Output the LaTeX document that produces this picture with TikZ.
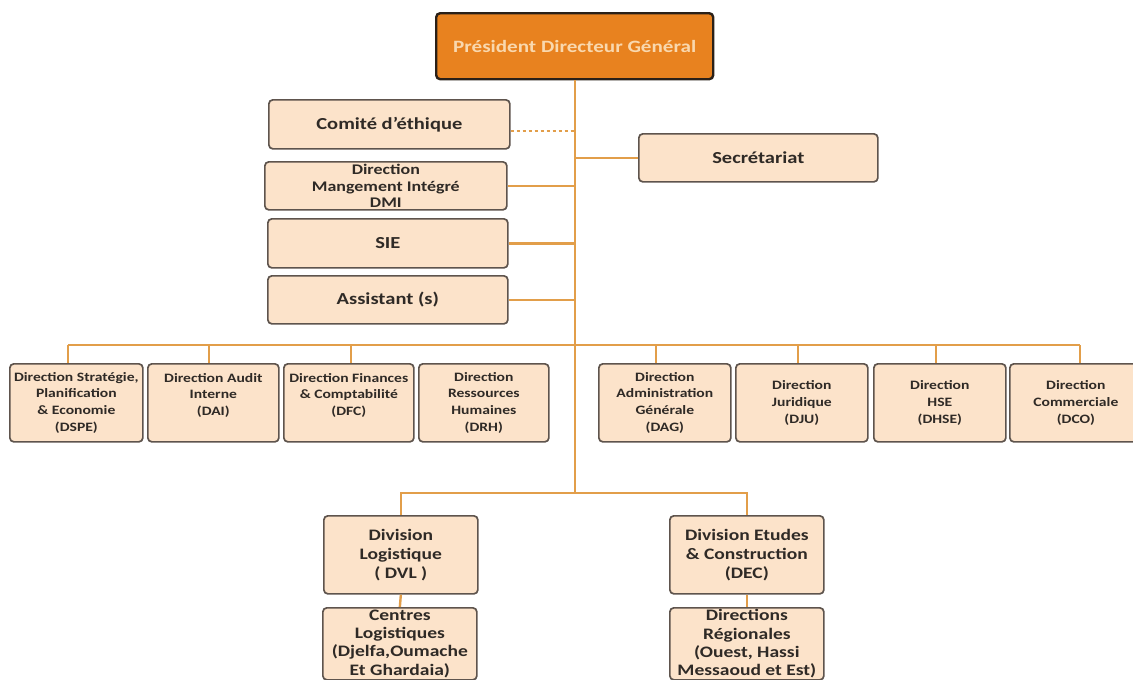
\documentclass[tikz,border=0pt]{standalone}
\usepackage{fontspec}
\setmainfont{Carlito}[FakeStretch=1.22]
\definecolor{pdgfill}{HTML}{E8821F}
\definecolor{pdgdraw}{HTML}{2A2018}
\definecolor{pdgtext}{HTML}{F9D8AE}
\definecolor{boxfill}{HTML}{FCE3CA}
\definecolor{boxdraw}{HTML}{5E544D}
\definecolor{linkc}{HTML}{E29E4A}
\definecolor{txt}{HTML}{2F2A26}
\tikzset{
  base/.style={draw=boxdraw, fill=boxfill, rounded corners=4pt, line width=1.7pt,
    anchor=north west, align=center, inner sep=0pt, text=txt},
  topbox/.style={base, font=\fontsize{16.8}{19}\selectfont\bfseries},
  rowbox/.style={base, minimum height=78, font=\fontsize{12.8}{16.8}\selectfont\bfseries},
  divbox/.style={base, minimum width=154, minimum height=78, font=\fontsize{16}{19}\selectfont\bfseries},
  link/.style={draw=linkc, line width=2.4pt},
}
\begin{document}
\begin{tikzpicture}[x=1pt, y=-1pt]
\clip (0,0) rectangle (1133,680);
\fill[white] (0,0) rectangle (1133,680);
% top
\node[base, draw=pdgdraw, fill=pdgfill, line width=2.4pt, text=pdgtext,
  minimum width=277, minimum height=66, font=\fontsize{17.3}{20}\selectfont\bfseries]
  (pdg) at (435,12) {Président Directeur Général};
\node[topbox, minimum width=241, minimum height=49] (comite) at (268,99) {Comité d’éthique};
\node[topbox, minimum width=242, minimum height=48, font=\fontsize{14.7}{16.5}\selectfont\bfseries]
  (dmi) at (264,161) {Direction\\Mangement Intégré\\DMI};
\node[topbox, minimum width=240, minimum height=49] (sie) at (267,218) {SIE};
\node[topbox, minimum width=240, minimum height=48] (assist) at (267,275) {Assistant (s)};
\node[topbox, minimum width=239, minimum height=48] (secr) at (638,133) {Secrétariat};
% row of directions
\node[rowbox, minimum width=133] (b1) at (9,363) {Direction Stratégie,\\Planification\\\& Economie\\(DSPE)};
\node[rowbox, minimum width=131] (b2) at (147,363) {Direction Audit\\Interne\\(DAI)\\\mbox{}};
\node[rowbox, minimum width=130] (b3) at (283,363) {Direction Finances\\\& Comptabilité\\(DFC)\\\mbox{}};
\node[rowbox, minimum width=130] (b4) at (418,363) {Direction\\Ressources\\Humaines\\(DRH)};
\node[rowbox, minimum width=132] (b5) at (598,363) {Direction\\Administration\\Générale\\(DAG)};
\node[rowbox, minimum width=132] (b6) at (735,363) {Direction\\Juridique\\(DJU)};
\node[rowbox, minimum width=132] (b7) at (873,363) {Direction\\HSE\\(DHSE)};
\node[rowbox, minimum width=132] (b8) at (1009,363) {Direction\\Commerciale\\(DCO)};
% divisions
\node[divbox] (dvl) at (323,515) {Division\\Logistique\\( DVL )};
\node[divbox] (dec) at (669,515) {Division Etudes\\\& Construction\\(DEC)};
\node[divbox, minimum height=72, font=\fontsize{16}{18.2}\selectfont\bfseries] (cl) at (322,607) {Centres\\Logistiques\\(Djelfa,Oumache\\Et Ghardaia)};
\node[divbox, minimum height=72, font=\fontsize{16}{18.2}\selectfont\bfseries] (dr) at (669,607) {Directions\\Régionales\\(Ouest, Hassi\\Messaoud et Est)};
% coordinates
\path ([xshift=-8.5pt]b1.north) ++(0,-18) coordinate (busL);
\path ([xshift=4pt]b8.north) ++(0,-18) coordinate (busR);
\path (dvl.north) ++(0,-22) coordinate (hubL);
\path (hubL -| pdg.south) coordinate (hub);
% connectors
\draw[link] (pdg.south) -- (hub);
\draw[link, line width=1.8pt, dash pattern=on 3.5pt off 2.5pt] ([yshift=-7pt]comite.east) -- ([yshift=-7pt]comite.east -| pdg.south);
\draw[link] (secr.west) -- (secr.west -| pdg.south);
\draw[link] (dmi.east) -- (dmi.east -| pdg.south);
\draw[link] (sie.east) -- (sie.east -| pdg.south);
\draw[link] (assist.east) -- (assist.east -| pdg.south);
\draw[link] (busL) -- (busR);
\draw[link] ([xshift=-8.5pt]b1.north) -- (busL);
\draw[link] ([xshift=-4.5pt]b2.north) -- ([xshift=-4.5pt]b2.north |- busL);
\draw[link] ([xshift=2pt]b3.north) -- ([xshift=2pt]b3.north |- busL);
\draw[link] ([xshift=-9pt]b5.north) -- ([xshift=-9pt]b5.north |- busL);
\draw[link] ([xshift=-4pt]b6.north) -- ([xshift=-4pt]b6.north |- busL);
\draw[link] ([xshift=-4pt]b7.north) -- ([xshift=-4pt]b7.north |- busL);
\draw[link] ([xshift=4pt]b8.north) -- (busR);
\draw[link] (dvl.north) |- (hub) -| (dec.north);
\draw[link] (dvl.south) -- (cl.north);
\draw[link] (dec.south) -- (dr.north);
\end{tikzpicture}
\end{document}
